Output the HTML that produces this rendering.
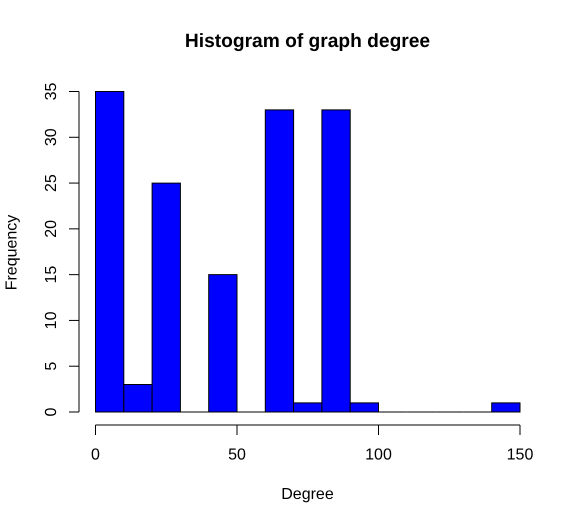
<!DOCTYPE html>
<html>
<head>
<meta charset="utf-8">
<style>
html,body{margin:0;padding:0;background:#fff;}
svg{display:block;}
text{font-family:"Liberation Sans",Arial,sans-serif;fill:#000;text-rendering:geometricPrecision;}
</style>
</head>
<body>
<svg id="chart" xmlns="http://www.w3.org/2000/svg" width="577" height="523" viewBox="0 0 577 523"></svg>
<script>
const binStarts = [0,10,20,30,40,50,60,70,80,90,100,110,120,130,140];
const binWidth = 10;
const frequencies = [35,3,25,0,15,0,33,1,33,1,0,0,0,0,1];
const xTicks = [0,50,100,150];
const yTicks = [0,5,10,15,20,25,30,35];

const NS = 'http://www.w3.org/2000/svg';
const svg = document.getElementById('chart');
const xPos = v => 95.5 + v * (520 - 95.5) / 150;
const yPos = v => 412 - v * (412 - 91.5) / 35;

function make(tag, attrs, parent) {
  const el = document.createElementNS(NS, tag);
  for (const k in attrs) el.setAttribute(k, attrs[k]);
  parent.appendChild(el);
  return el;
}

const bars = make('g', {}, svg);


binStarts.forEach((s, i) => {
  const x0 = xPos(s), x1 = xPos(s + binWidth), y = yPos(frequencies[i]), b = yPos(0);
  const d = 'M' + x0 + ' ' + b + 'L' + x0 + ' ' + y + 'L' + x1 + ' ' + y + 'L' + x1 + ' ' + b + 'Z';
  const r = make('path', {d: d, fill: '#0000ff', stroke: '#000', 'stroke-width': 1}, bars);
  
  
});

const xAxis = make('g', {}, svg);


const xLine = make('line', {x1: xPos(xTicks[0]), x2: xPos(xTicks[xTicks.length - 1]), y1: 425, y2: 425, stroke: '#000', 'stroke-width': 1}, xAxis);


xTicks.forEach(t => {
  const tick = make('line', {x1: xPos(t), x2: xPos(t), y1: 425, y2: 435, stroke: '#000', 'stroke-width': 1}, xAxis);
  
  
  const lab = make('text', {x: xPos(t), y: 459.5, 'text-anchor': 'middle', 'font-size': 16}, xAxis);
  
  
  lab.textContent = t;
});

const yAxis = make('g', {}, svg);


const yLine = make('line', {x1: 79, x2: 79, y1: yPos(yTicks[0]), y2: yPos(yTicks[yTicks.length - 1]), stroke: '#000', 'stroke-width': 1}, yAxis);


yTicks.forEach(t => {
  const tick = make('line', {x1: 69, x2: 79, y1: yPos(t), y2: yPos(t), stroke: '#000', 'stroke-width': 1}, yAxis);
  
  
  const lab = make('text', {transform: 'translate(56 ' + yPos(t) + ') rotate(-90)', 'text-anchor': 'middle', 'font-size': 16}, yAxis);
  
  
  lab.textContent = t;
});

const title = make('text', {x: 307.5, y: 47, 'text-anchor': 'middle', 'font-size': 19.2, 'font-weight': 'bold'}, svg);


title.textContent = 'Histogram of graph degree';

const xTitle = make('text', {x: 307.5, y: 499, 'text-anchor': 'middle', 'font-size': 16}, svg);


xTitle.textContent = 'Degree';

const yTitle = make('text', {transform: 'translate(16.5 252.5) rotate(-90)', 'text-anchor': 'middle', 'font-size': 16}, svg);


yTitle.textContent = 'Frequency';
</script>
</body>
</html>
